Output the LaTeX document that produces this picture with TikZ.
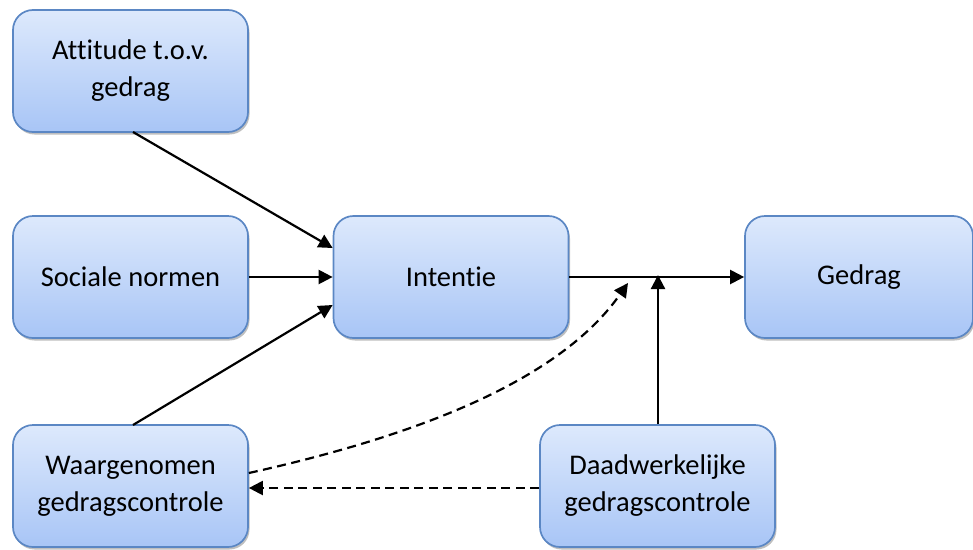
\documentclass[tikz,border=0pt]{standalone}
\usepackage{fontspec}
\setmainfont{Carlito}[Ligatures=NoCommon]
\usetikzlibrary{arrows.meta,shadows}
\begin{document}
\begin{tikzpicture}[x=1pt,y=-1pt,
  box/.style={draw=boxborder, line width=1.7pt, rounded corners=20pt,
    top color=boxtop, bottom color=boxbottom, minimum width=235pt, minimum height=122pt,
    align=center, font=\fontsize{28.5}{37}\selectfont, inner sep=0pt,
    drop shadow={shadow xshift=1.5pt, shadow yshift=-2.5pt, opacity=0.25, fill=black}},
  link/.style={line width=2.2pt, -{Triangle[length=14pt,width=14pt]}},
  dlink/.style={link, dash pattern=on 9pt off 5.5pt}]
\definecolor{boxborder}{HTML}{5B87C4}
\definecolor{boxtop}{HTML}{DDE9FC}
\definecolor{boxbottom}{HTML}{A8C5F6}
\useasboundingbox (0,0) rectangle (973,549);

\node[box] (att) at (130.5,71) {Attitude t.o.v.\\gedrag};
\node[box] (soc) at (130.5,277) {Sociale normen};
\node[box] (waa) at (130.5,486) {Waargenomen\\gedragscontrole};
\node[box] (int) at (451,277) {Intentie};
\node[box, minimum width=228pt] (ged) at (859,277) {Gedrag};
\node[box] (daa) at (657.5,486) {Daadwerkelijke\\gedragscontrole};

\coordinate (attout) at (133,132);
\coordinate (waaout) at (133,425);
\coordinate (junc) at (658,278);
\coordinate (dtip) at (628,283);

\draw[link] (attout) -- (int.west |- 0,248);
\draw[link] (soc.east) -- (int.west);
\draw[link] (waaout) -- (int.west |- 0,305);
\draw[link] (int.east) -- (ged.west);
\draw[link] (daa.north -| junc) -- ([yshift=3pt]junc);
\draw[dlink] (waa.east |- 0,473) .. controls (420,435) and (560,380) .. (dtip);
\draw[dlink] (daa.west |- 0,488) -- (waa.east |- 0,488);
\end{tikzpicture}
\end{document}
